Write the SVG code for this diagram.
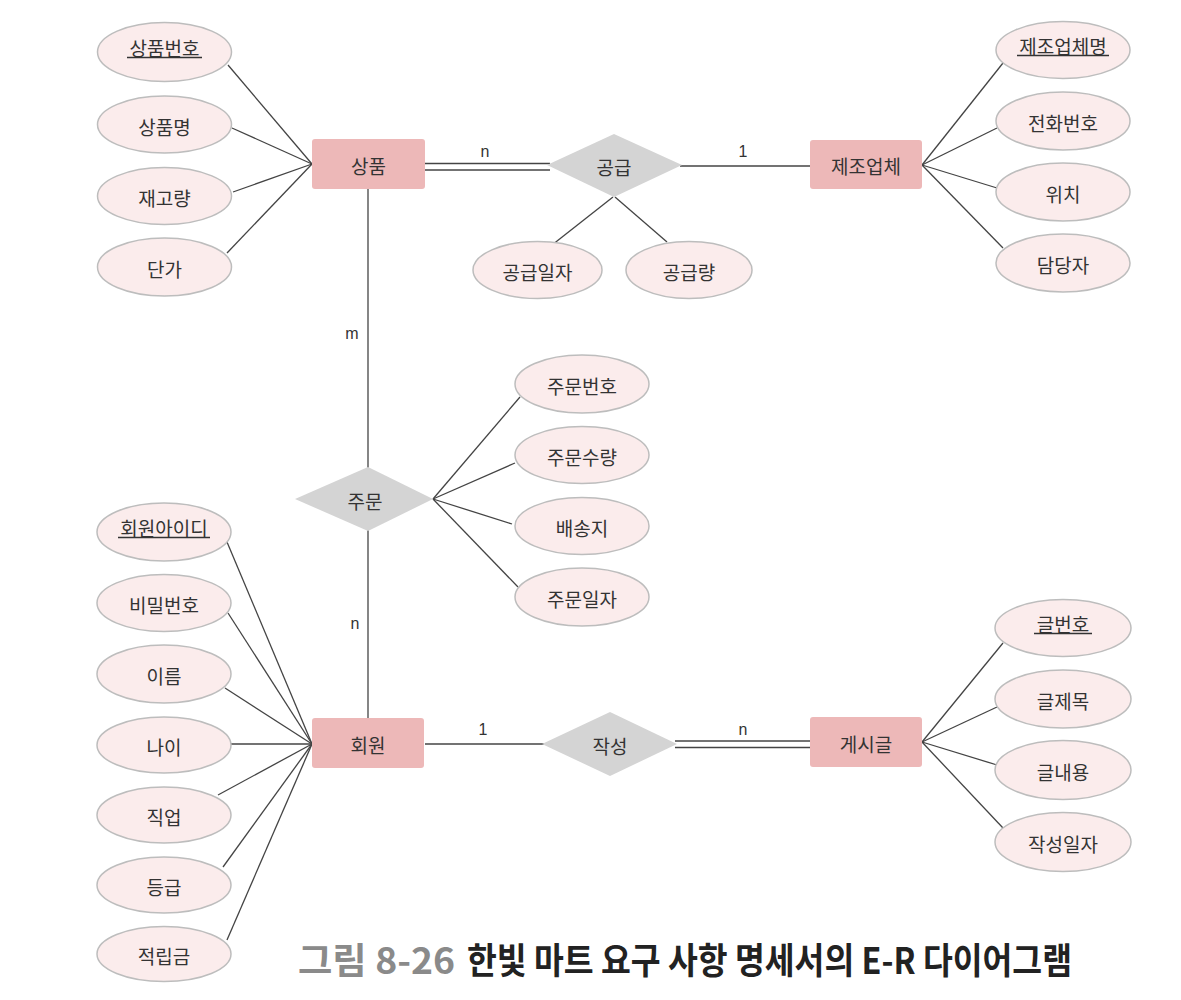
<svg xmlns="http://www.w3.org/2000/svg" width="1181" height="1000" viewBox="0 0 1181 1000">
<style>
.ent{fill:#EDB8B8;}
.rel{fill:#D4D4D4;}
.att{fill:#FBECEC;stroke:#BDBDBD;stroke-width:1.5;}
.t{font-family:"Noto Sans CJK KR","Noto Sans",sans-serif;font-size:19px;fill:#333;text-anchor:middle;dominant-baseline:central;}
.lbl{font-family:"Liberation Sans",Arial,sans-serif;font-size:16px;fill:#333;text-anchor:middle;}
.ln{stroke:#444;stroke-width:1.3;fill:none;}
.ul{stroke:#333;stroke-width:1.3;}
.cap{font-family:"Noto Sans CJK KR","Noto Sans",sans-serif;font-size:36px;font-weight:700;}
</style>
<rect width="1181" height="1000" fill="#fff"/>
<g id="connectors">
  <line class="ln" x1="228" y1="65" x2="312" y2="164"/>
  <line class="ln" x1="232" y1="128" x2="312" y2="164"/>
  <line class="ln" x1="233" y1="192" x2="312" y2="164"/>
  <line class="ln" x1="227" y1="253" x2="312" y2="164"/>
  <line class="ln" x1="1003" y1="63" x2="922" y2="165"/>
  <line class="ln" x1="997" y1="128" x2="922" y2="165"/>
  <line class="ln" x1="997" y1="188" x2="922" y2="165"/>
  <line class="ln" x1="1003" y1="248" x2="922" y2="165"/>
  <line class="ln" x1="613" y1="197" x2="552" y2="245"/>
  <line class="ln" x1="615" y1="197" x2="667" y2="242"/>
  <line class="ln" x1="433" y1="499" x2="520" y2="397"/>
  <line class="ln" x1="433" y1="499" x2="515" y2="463"/>
  <line class="ln" x1="433" y1="499" x2="512" y2="524"/>
  <line class="ln" x1="433" y1="499" x2="518" y2="587"/>
  <line class="ln" x1="227" y1="542" x2="312" y2="744"/>
  <line class="ln" x1="228" y1="613" x2="312" y2="744"/>
  <line class="ln" x1="225" y1="688" x2="312" y2="744"/>
  <line class="ln" x1="231" y1="744" x2="312" y2="744"/>
  <line class="ln" x1="218" y1="795" x2="312" y2="744"/>
  <line class="ln" x1="223" y1="867" x2="312" y2="744"/>
  <line class="ln" x1="227" y1="940" x2="312" y2="744"/>
  <line class="ln" x1="1003" y1="643" x2="922" y2="742"/>
  <line class="ln" x1="997" y1="707" x2="922" y2="742"/>
  <line class="ln" x1="997" y1="765" x2="922" y2="742"/>
  <line class="ln" x1="1003" y1="828" x2="922" y2="742"/>
  <line class="ln" x1="425" y1="163.5" x2="550" y2="163.5"/>
  <line class="ln" x1="425" y1="170" x2="550" y2="170"/>
  <line class="ln" x1="680" y1="166" x2="810" y2="166"/>
  <line class="ln" x1="368" y1="189" x2="368" y2="468"/>
  <line class="ln" x1="368" y1="530" x2="368" y2="718"/>
  <line class="ln" x1="425" y1="744" x2="544" y2="744"/>
  <line class="ln" x1="675" y1="741" x2="810" y2="741"/>
  <line class="ln" x1="675" y1="747.5" x2="810" y2="747.5"/>
  <text class="lbl" x="485" y="157">n</text>
  <text class="lbl" x="743" y="157">1</text>
  <text class="lbl" x="352" y="339">m</text>
  <text class="lbl" x="355" y="629">n</text>
  <text class="lbl" x="483" y="735">1</text>
  <text class="lbl" x="743" y="735">n</text>
</g>
<g id="e-sangpum"><rect class="ent" x="312" y="139" width="113" height="50" rx="3"/><text class="t" x="368.5" y="165">상품</text></g>
<g id="e-jejo"><rect class="ent" x="810" y="140" width="112" height="49" rx="3"/><text class="t" x="866" y="165">제조업체</text></g>
<g id="e-hoewon"><rect class="ent" x="312" y="718" width="112" height="50" rx="3"/><text class="t" x="368" y="744">회원</text></g>
<g id="e-gesigeul"><rect class="ent" x="810" y="717" width="112" height="50" rx="3"/><text class="t" x="866" y="743">게시글</text></g>
<g id="r-gonggeup"><polygon class="rel" points="547,165 614,134 682,165 614,197"/><text class="t" x="614" y="166">공급</text></g>
<g id="r-jumun"><polygon class="rel" points="295,499 368,467 433,499 368,531"/><text class="t" x="365" y="500">주문</text></g>
<g id="r-jakseong"><polygon class="rel" points="542,744 610,712 677,744 610,776"/><text class="t" x="610" y="745">작성</text></g>
<g id="a-sangpumbeonho"><ellipse class="att" cx="164.5" cy="52" rx="67" ry="29.5"/><text class="t" x="164.5" y="47">상품번호</text><line class="ul" x1="127" y1="57.5" x2="202" y2="57.5"/></g>
<g id="a-sangpummyeong"><ellipse class="att" cx="164.5" cy="124.5" rx="67" ry="28.5"/><text class="t" x="164.5" y="126">상품명</text></g>
<g id="a-jaegoryang"><ellipse class="att" cx="164.5" cy="196" rx="67" ry="28.5"/><text class="t" x="164.5" y="197">재고량</text></g>
<g id="a-danga"><ellipse class="att" cx="164.5" cy="267" rx="67" ry="29"/><text class="t" x="164.5" y="268">단가</text></g>
<g id="a-jejomyeong"><ellipse class="att" cx="1063" cy="50" rx="67" ry="28.5"/><text class="t" x="1063" y="45">제조업체명</text><line class="ul" x1="1017" y1="55.5" x2="1109" y2="55.5"/></g>
<g id="a-jeonhwa"><ellipse class="att" cx="1063" cy="121" rx="67" ry="29"/><text class="t" x="1063" y="122">전화번호</text></g>
<g id="a-wichi"><ellipse class="att" cx="1063" cy="192" rx="67" ry="29"/><text class="t" x="1063" y="193">위치</text></g>
<g id="a-damdangja"><ellipse class="att" cx="1063" cy="263" rx="67" ry="29"/><text class="t" x="1063" y="264">담당자</text></g>
<g id="a-gonggeupilja"><ellipse class="att" cx="537.5" cy="270" rx="64.5" ry="28.5"/><text class="t" x="537.5" y="271">공급일자</text></g>
<g id="a-gonggeupryang"><ellipse class="att" cx="689" cy="270" rx="63" ry="28.5"/><text class="t" x="689" y="271">공급량</text></g>
<g id="a-jumunbeonho"><ellipse class="att" cx="582" cy="384" rx="67" ry="29"/><text class="t" x="582" y="385">주문번호</text></g>
<g id="a-jumunsuryang"><ellipse class="att" cx="582" cy="455" rx="67" ry="28.5"/><text class="t" x="582" y="456">주문수량</text></g>
<g id="a-baesongji"><ellipse class="att" cx="582" cy="526" rx="67" ry="28.5"/><text class="t" x="582" y="527">배송지</text></g>
<g id="a-jumunilja"><ellipse class="att" cx="582" cy="597" rx="67" ry="29"/><text class="t" x="582" y="598">주문일자</text></g>
<g id="a-id"><ellipse class="att" cx="164" cy="532" rx="67" ry="29"/><text class="t" x="164" y="527">회원아이디</text><line class="ul" x1="118" y1="537.5" x2="210" y2="537.5"/></g>
<g id="a-pw"><ellipse class="att" cx="164" cy="603" rx="67" ry="28.5"/><text class="t" x="164" y="604">비밀번호</text></g>
<g id="a-ireum"><ellipse class="att" cx="164" cy="674" rx="67" ry="29"/><text class="t" x="164" y="675">이름</text></g>
<g id="a-nai"><ellipse class="att" cx="164" cy="745" rx="67" ry="28"/><text class="t" x="164" y="746">나이</text></g>
<g id="a-jigeop"><ellipse class="att" cx="164" cy="815" rx="67" ry="28"/><text class="t" x="164" y="816">직업</text></g>
<g id="a-deunggeup"><ellipse class="att" cx="164" cy="885" rx="67" ry="28"/><text class="t" x="164" y="886">등급</text></g>
<g id="a-jeoklipgeum"><ellipse class="att" cx="164" cy="954" rx="67" ry="27.5"/><text class="t" x="164" y="955">적립금</text></g>
<g id="a-geulbeonho"><ellipse class="att" cx="1063" cy="628" rx="68" ry="28.5"/><text class="t" x="1063" y="623">글번호</text><line class="ul" x1="1034" y1="633.5" x2="1092" y2="633.5"/></g>
<g id="a-geuljemok"><ellipse class="att" cx="1063" cy="699" rx="68" ry="29"/><text class="t" x="1063" y="700">글제목</text></g>
<g id="a-geulnaeyong"><ellipse class="att" cx="1063" cy="770" rx="68" ry="29.5"/><text class="t" x="1063" y="771">글내용</text></g>
<g id="a-jakseongilja"><ellipse class="att" cx="1063" cy="842" rx="68" ry="29.5"/><text class="t" x="1063" y="843">작성일자</text></g>
<g id="caption">
  <text class="cap" x="298" y="974" fill="#8A8A8A" textLength="157" lengthAdjust="spacingAndGlyphs">그림 8-26</text>
  <text class="cap" x="467" y="974" fill="#222" textLength="605" lengthAdjust="spacingAndGlyphs">한빛 마트 요구 사항 명세서의 E-R 다이어그램</text>
</g>
</svg>
